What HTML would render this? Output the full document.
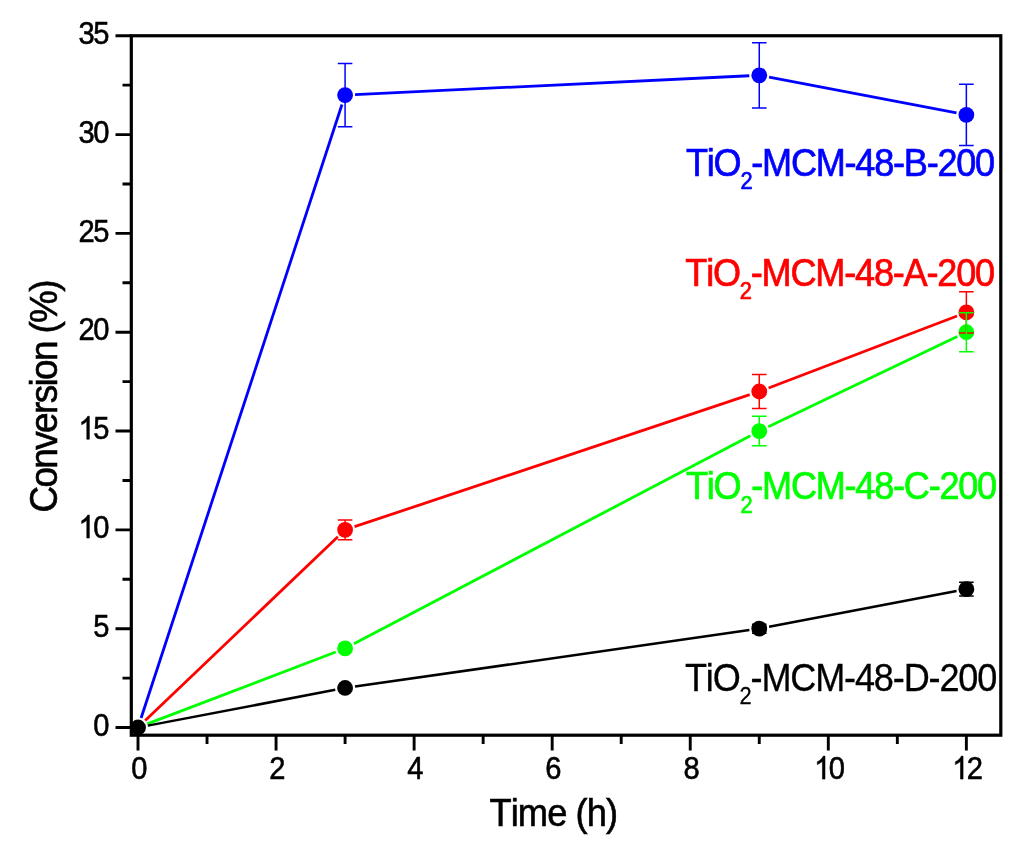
<!DOCTYPE html>
<html><head><meta charset="utf-8"><title>chart</title>
<style>html,body{margin:0;padding:0;background:#fff}svg{display:block;will-change:transform}text{font-family:"Liberation Sans",sans-serif;font-kerning:none;font-feature-settings:"kern" 0,"liga" 0}.k{stroke:#000;stroke-width:0.6}</style></head><body>
<svg width="1024" height="856" viewBox="0 0 1024 856">
<rect x="0" y="0" width="1024" height="856" fill="#fff"/>
<rect x="131.3" y="35.75" width="869.50" height="699.45" fill="none" stroke="#000" stroke-width="3.2"/>
<path d="M138.00 735.2 v15.2 M207.03 735.2 v8.8 M276.06 735.2 v15.2 M345.09 735.2 v8.8 M414.12 735.2 v15.2 M483.15 735.2 v8.8 M552.18 735.2 v15.2 M621.21 735.2 v8.8 M690.24 735.2 v15.2 M759.27 735.2 v8.8 M828.30 735.2 v15.2 M897.33 735.2 v8.8 M966.36 735.2 v15.2 M131.3 727.50 h-15.8 M131.3 678.09 h-8.8 M131.3 628.68 h-15.8 M131.3 579.27 h-8.8 M131.3 529.86 h-15.8 M131.3 480.45 h-8.8 M131.3 431.04 h-15.8 M131.3 381.63 h-8.8 M131.3 332.22 h-15.8 M131.3 282.81 h-8.8 M131.3 233.40 h-15.8 M131.3 183.99 h-8.8 M131.3 134.58 h-15.8 M131.3 85.17 h-8.8 M131.3 35.76 h-15.8" stroke="#000" stroke-width="2.9" fill="none"/>
<g transform="translate(138.50 779.10) scale(0.91 1)"><text class="k" x="-8.05" y="0" font-size="32">0</text></g>
<g transform="translate(276.56 779.10) scale(0.91 1)"><text class="k" x="-8.05" y="0" font-size="32">2</text></g>
<g transform="translate(414.62 779.10) scale(0.91 1)"><text class="k" x="-8.05" y="0" font-size="32">4</text></g>
<g transform="translate(552.68 779.10) scale(0.91 1)"><text class="k" x="-8.05" y="0" font-size="32">6</text></g>
<g transform="translate(690.74 779.10) scale(0.91 1)"><text class="k" x="-8.05" y="0" font-size="32">8</text></g>
<g transform="translate(828.80 779.10) scale(0.91 1)"><path transform="translate(-16.10 0) scale(0.015625 -0.015625)" d="M763 0H583V1147Q518 1085 412.5 1023Q307 961 223 930V1104Q374 1175 487 1276Q600 1377 647 1472H763V0Z" fill="#000" stroke="#000" stroke-width="38.4"/><text class="k" x="0.00" y="0" font-size="32">0</text></g>
<g transform="translate(966.86 779.10) scale(0.91 1)"><path transform="translate(-16.10 0) scale(0.015625 -0.015625)" d="M763 0H583V1147Q518 1085 412.5 1023Q307 961 223 930V1104Q374 1175 487 1276Q600 1377 647 1472H763V0Z" fill="#000" stroke="#000" stroke-width="38.4"/><text class="k" x="0.00" y="0" font-size="32">2</text></g>
<g transform="translate(107.80 735.70) scale(0.91 1)"><text class="k" x="-16.10" y="0" font-size="32">0</text></g>
<g transform="translate(107.80 636.88) scale(0.91 1)"><text class="k" x="-16.10" y="0" font-size="32">5</text></g>
<g transform="translate(107.80 538.06) scale(0.91 1)"><path transform="translate(-32.19 0) scale(0.015625 -0.015625)" d="M763 0H583V1147Q518 1085 412.5 1023Q307 961 223 930V1104Q374 1175 487 1276Q600 1377 647 1472H763V0Z" fill="#000" stroke="#000" stroke-width="38.4"/><text class="k" x="-16.10" y="0" font-size="32">0</text></g>
<g transform="translate(107.80 439.24) scale(0.91 1)"><path transform="translate(-32.19 0) scale(0.015625 -0.015625)" d="M763 0H583V1147Q518 1085 412.5 1023Q307 961 223 930V1104Q374 1175 487 1276Q600 1377 647 1472H763V0Z" fill="#000" stroke="#000" stroke-width="38.4"/><text class="k" x="-16.10" y="0" font-size="32">5</text></g>
<g transform="translate(107.80 340.42) scale(0.91 1)"><text class="k" x="-32.19" y="0" font-size="32">2</text><text class="k" x="-16.10" y="0" font-size="32">0</text></g>
<g transform="translate(107.80 241.60) scale(0.91 1)"><text class="k" x="-32.19" y="0" font-size="32">2</text><text class="k" x="-16.10" y="0" font-size="32">5</text></g>
<g transform="translate(107.80 142.78) scale(0.91 1)"><text class="k" x="-32.19" y="0" font-size="32">3</text><text class="k" x="-16.10" y="0" font-size="32">0</text></g>
<g transform="translate(107.80 43.96) scale(0.91 1)"><text class="k" x="-32.19" y="0" font-size="32">3</text><text class="k" x="-16.10" y="0" font-size="32">5</text></g>
<text class="k" transform="translate(553.3 826.3) scale(0.955 1)" font-size="38" text-anchor="middle" letter-spacing="-0.95">Time (h)</text>
<text class="k" transform="translate(56.9 396.8) rotate(-90) scale(0.959 1)" font-size="38.5" text-anchor="middle" letter-spacing="-1.7">Conversion (%)</text>
<line x1="141.11" y1="718.00" x2="341.98" y2="104.56" stroke="#0000ff" stroke-width="2.8"/>
<line x1="355.08" y1="94.58" x2="749.28" y2="75.76" stroke="#0000ff" stroke-width="2.8"/>
<line x1="769.09" y1="77.16" x2="956.54" y2="112.94" stroke="#0000ff" stroke-width="2.8"/>
<circle cx="345.09" cy="95.05" r="7.9" fill="#0000ff"/>
<circle cx="759.27" cy="75.29" r="7.9" fill="#0000ff"/>
<circle cx="966.36" cy="114.82" r="7.9" fill="#0000ff"/>
<line x1="145.23" y1="720.60" x2="337.86" y2="536.76" stroke="#ff0000" stroke-width="2.8"/>
<line x1="354.57" y1="526.69" x2="749.79" y2="394.68" stroke="#ff0000" stroke-width="2.8"/>
<line x1="768.61" y1="387.95" x2="957.02" y2="316.02" stroke="#ff0000" stroke-width="2.8"/>
<circle cx="345.09" cy="529.86" r="7.9" fill="#ff0000"/>
<circle cx="759.27" cy="391.51" r="7.9" fill="#ff0000"/>
<circle cx="966.36" cy="312.46" r="7.9" fill="#ff0000"/>
<line x1="147.34" y1="723.93" x2="335.75" y2="652.01" stroke="#00ff00" stroke-width="2.8"/>
<line x1="353.94" y1="643.80" x2="750.42" y2="435.69" stroke="#00ff00" stroke-width="2.8"/>
<line x1="768.30" y1="426.73" x2="957.33" y2="336.53" stroke="#00ff00" stroke-width="2.8"/>
<circle cx="345.09" cy="648.44" r="7.9" fill="#00ff00"/>
<circle cx="759.27" cy="431.04" r="7.9" fill="#00ff00"/>
<circle cx="966.36" cy="332.22" r="7.9" fill="#00ff00"/>
<line x1="147.82" y1="725.63" x2="335.27" y2="689.85" stroke="#000000" stroke-width="2.5"/>
<line x1="354.99" y1="686.55" x2="749.37" y2="630.10" stroke="#000000" stroke-width="2.5"/>
<line x1="769.09" y1="626.81" x2="956.54" y2="591.03" stroke="#000000" stroke-width="2.5"/>
<circle cx="138.00" cy="727.50" r="7.9" fill="#000000"/>
<circle cx="345.09" cy="687.97" r="7.9" fill="#000000"/>
<circle cx="759.27" cy="628.68" r="7.9" fill="#000000"/>
<circle cx="966.36" cy="589.15" r="7.9" fill="#000000"/>
<path d="M345.09 63.43V126.67M337.79 63.43h14.6M337.79 126.67h14.6M759.27 42.68V107.90M751.97 42.68h14.6M751.97 107.90h14.6M966.36 84.18V145.45M959.06 84.18h14.6M959.06 145.45h14.6" stroke="#0000ff" stroke-width="1.5" fill="none"/>
<path d="M345.09 519.98V539.74M337.79 519.98h14.6M337.79 539.74h14.6M759.27 374.61V408.41M751.97 374.61h14.6M751.97 408.41h14.6M966.36 291.80V333.11M959.06 291.80h14.6M959.06 333.11h14.6" stroke="#ff0000" stroke-width="1.5" fill="none"/>
<path d="M759.27 416.22V445.86M751.97 416.22h14.6M751.97 445.86h14.6M966.36 312.65V351.79M959.06 312.65h14.6M959.06 351.79h14.6" stroke="#00ff00" stroke-width="1.5" fill="none"/>
<path d="M759.27 624.13V633.23M751.97 624.13h14.6M751.97 633.23h14.6M966.36 582.23V596.07M959.06 582.23h14.6M959.06 596.07h14.6" stroke="#000000" stroke-width="1.5" fill="none"/>
<text transform="translate(686.0 175.6) scale(0.95 1)" font-size="38" fill="#0000ff" stroke="#0000ff" stroke-width="0.7" letter-spacing="-1.3">TiO<tspan font-size="23" dy="13.5">2</tspan><tspan dy="-13.5">-MCM-48-B-200</tspan></text>
<text transform="translate(685.3 285.7) scale(0.95 1)" font-size="38" fill="#ff0000" stroke="#ff0000" stroke-width="0.7" letter-spacing="-1.26">TiO<tspan font-size="23" dy="13.5">2</tspan><tspan dy="-13.5">-MCM-48-A-200</tspan></text>
<text transform="translate(686.0 499.0) scale(0.95 1)" font-size="38" fill="#00ff00" stroke="#00ff00" stroke-width="0.7" letter-spacing="-1.3">TiO<tspan font-size="23" dy="13.5">2</tspan><tspan dy="-13.5">-MCM-48-C-200</tspan></text>
<text transform="translate(684.9 690.9) scale(0.95 1)" font-size="38" fill="#000000" stroke="#000000" stroke-width="0.3" letter-spacing="-1.22">TiO<tspan font-size="23" dy="13.5">2</tspan><tspan dy="-13.5">-MCM-48-D-200</tspan></text>
</svg></body></html>
